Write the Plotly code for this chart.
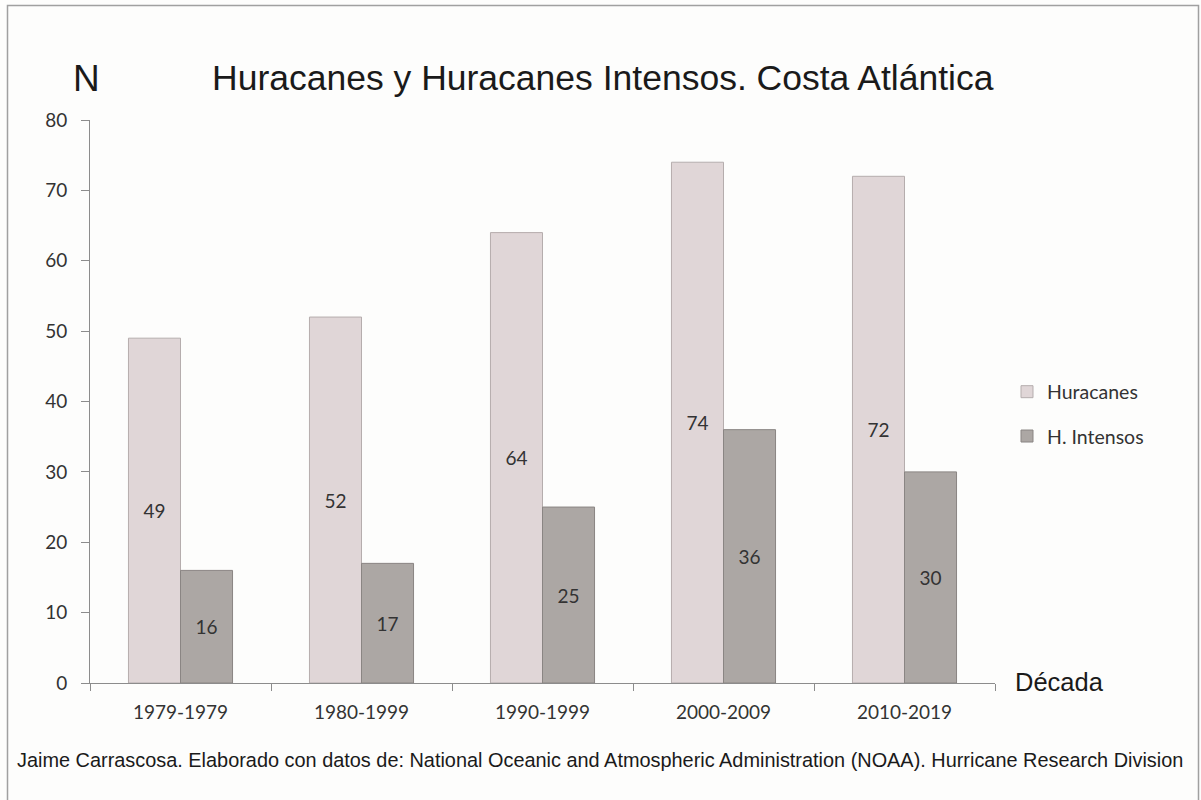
import plotly.graph_objects as go

categories = ["1979-1979", "1980-1999", "1990-1999", "2000-2009", "2010-2019"]
huracanes = [49, 52, 64, 74, 72]
intensos = [16, 17, 25, 36, 30]
y_ticks = [0, 10, 20, 30, 40, 50, 60, 70, 80]

W, H = 1201, 800
L, R, T, B = 90, 206, 120, 117
PW, PH = W - L - R, H - T - B

def px(x):
    return (x - L) / PW

def py(y):
    return (H - B - y) / PH

fig = go.Figure()
fig.add_trace(go.Bar(
    x=categories, y=huracanes, name="Huracanes", legendgroup="a",
    marker=dict(color="#e0d6d7", line=dict(color="#b5adad", width=1)),
    text=[str(v) for v in huracanes], textposition="inside",
    insidetextanchor="middle", textangle=0,
    textfont=dict(family="Lato", size=19, color="#333333"),
))
fig.add_trace(go.Bar(
    x=categories, y=intensos, name="H. Intensos", legendgroup="b",
    marker=dict(color="#aca7a4", line=dict(color="#8a8583", width=1)),
    text=[str(v) for v in intensos], textposition="inside",
    insidetextanchor="middle", textangle=0,
    textfont=dict(family="Lato", size=19, color="#333333"),
))

axis_color = "#8c8c8c"
fig.update_layout(
    width=W, height=H,
    margin=dict(l=L, r=R, t=T, b=B, autoexpand=False),
    paper_bgcolor="#fdfdfc", plot_bgcolor="#fdfdfc",
    barmode="group", bargap=0.425, bargroupgap=0,
    showlegend=True,
    legend=dict(x=px(1007), y=py(414), xanchor="left", yanchor="middle",
                font=dict(family="Lato", size=19.5, color="#333333"),
                tracegroupgap=16, itemwidth=30, bgcolor="rgba(0,0,0,0)"),
    xaxis=dict(type="category", showline=True, linecolor=axis_color, linewidth=1,
               ticks="outside", tickson="boundaries", ticklen=7, tickcolor=axis_color,
               tickfont=dict(family="Lato", size=19, color="#333333"),
               ticklabelstandoff=12,
               showgrid=False, zeroline=False, fixedrange=True),
    yaxis=dict(range=[0, 80], tickvals=y_ticks, showline=True, linecolor=axis_color,
               linewidth=1, ticks="outside", ticklen=8, tickcolor=axis_color,
               tickfont=dict(family="Lato", size=19, color="#333333"),
               ticklabelstandoff=10,
               showgrid=False, zeroline=False, fixedrange=True),
    font=dict(family="Liberation Sans"),
)

annots = [
    dict(text="Huracanes y Huracanes Intensos. Costa Atlántica", x=px(603), y=py(78),
         size=35.5, xanchor="center"),
    dict(text="N", x=px(86), y=py(79), size=37, xanchor="center"),
    dict(text="Década", x=px(1013), y=py(682), size=25.5, xanchor="left"),
    dict(text="Jaime Carrascosa. Elaborado con datos de: National Oceanic and Atmospheric "
              "Administration (NOAA). Hurricane Research Division",
         x=px(600), y=py(760), size=19.9, xanchor="center"),
]
for a in annots:
    fig.add_annotation(text=a["text"], x=a["x"], y=a["y"], xref="paper", yref="paper",
                       xanchor=a["xanchor"], yanchor="middle", showarrow=False,
                       font=dict(family="Liberation Sans", size=a["size"], color="#1a1a1a"))

fig.add_shape(type="rect", xref="paper", yref="paper",
              x0=px(7.5), x1=px(1198.5), y0=py(5.5), y1=py(830),
              line=dict(color="#a0a0a0", width=1.5), fillcolor="rgba(0,0,0,0)", layer="below")

fig.write_html("out.html")
